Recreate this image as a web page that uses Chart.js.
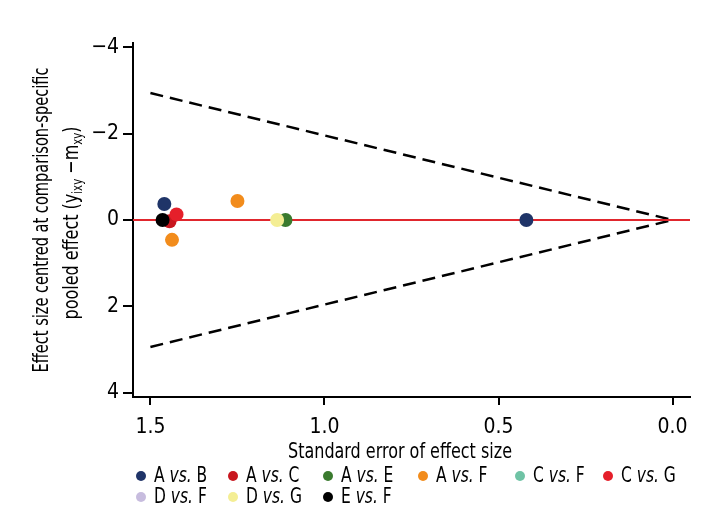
<!DOCTYPE html>
<html>
<head>
<meta charset="utf-8">
<script src="https://cdn.jsdelivr.net/npm/chart.js@4.4.1/dist/chart.umd.min.js"></script>
<style>
  body { margin: 0; background: #fff; }
  #wrap { position: relative; width: 720px; height: 528px; }
  #legend { position: absolute; left: 0; top: 0; width: 720px; height: 528px; pointer-events: none; }
  .item { position: absolute; display: flex; align-items: center; font-family: "DejaVu Sans Condensed", "DejaVu Sans", sans-serif; font-size: 21px; color: #000; white-space: nowrap; line-height: 1; }
  .dot { width: 10px; height: 10px; border-radius: 50%; margin-right: 8px; flex: none; }
  .txt { display: inline-block; transform: scaleX(0.82); transform-origin: left center; }
</style>
</head>
<body>
<div id="wrap">
  <canvas id="chart" width="720" height="528"></canvas>
  <div id="legend"></div>
</div>
<script>
// Data
const xTicks = [1.5, 1.0, 0.5, 0.0];
const yTicks = [-4, -2, 0, 2, 4];

const seriesNames = ['A vs. B', 'A vs. C', 'A vs. E', 'A vs. F', 'C vs. F', 'C vs. G', 'D vs. F', 'D vs. G', 'E vs. F'];
const seriesColors = ['#1f3468', '#c8171f', '#3a7a2e', '#f28c1c', '#6fc3a5', '#e51f2a', '#c7bcde', '#f4ee94', '#000000'];

// standard error (x) and centred effect (y) per comparison
const abSE = [1.46, 0.42],   abEffect = [-0.37, 0];
const acSE = [1.445],        acEffect = [0.03];
const aeSE = [1.112],        aeEffect = [0];
const afSE = [1.25, 1.438],  afEffect = [-0.44, 0.46];
const cfSE = [],             cfEffect = [];
const cgSE = [1.425],        cgEffect = [-0.13];
const dfSE = [],             dfEffect = [];
const dgSE = [1.136],        dgEffect = [0];
const efSE = [1.465],        efEffect = [0];

const seriesSE = [abSE, acSE, aeSE, afSE, cfSE, cgSE, dfSE, dgSE, efSE];
const seriesEffect = [abEffect, acEffect, aeEffect, afEffect, cfEffect, cgEffect, dfEffect, dgEffect, efEffect];
// draw order (higher = further back)
const seriesOrder = [5, 7, 6, 5, 5, 6, 5, 4, 3];

// funnel (pseudo 95% limits) and null line
const funnelSE = [1.5, 0.0];
const funnelUpper = [-2.94, 0];
const funnelLower = [2.94, 0];
const nullSE = [1.55, -0.05];
const nullEffect = [0, 0];

const FONT = '"DejaVu Sans Condensed", "DejaVu Sans", sans-serif';

function pts(xs, ys) {
    return xs.map((x, i) => ({ x: x, y: ys[i] }));
}

const datasets = [];
seriesNames.forEach((name, i) => {
    datasets.push({
        label: name,
        data: pts(seriesSE[i], seriesEffect[i]),
        backgroundColor: seriesColors[i],
        borderColor: seriesColors[i],
        pointRadius: 7,
        pointBorderWidth: 0,
        order: seriesOrder[i]
    });
});
datasets.push({
    label: 'upper', data: pts(funnelSE, funnelUpper), showLine: true, pointRadius: 0,
    borderColor: '#000', borderWidth: 2.5, borderDash: [13, 7], order: 20
});
datasets.push({
    label: 'lower', data: pts(funnelSE, funnelLower), showLine: true, pointRadius: 0,
    borderColor: '#000', borderWidth: 2.5, borderDash: [13, 7], order: 20
});
datasets.push({
    label: 'null', data: pts(nullSE, nullEffect), showLine: true, pointRadius: 0,
    borderColor: '#e0262d', borderWidth: 2, order: 10
});

// draws a run of [text, isSub] parts centred at cx, squeezed to the given width
function drawRun(ctx, parts, cx, baseline, width) {
    const big = '22px ' + FONT, small = '14px ' + FONT;
    let total = 0;
    parts.forEach(p => { ctx.font = p[1] ? small : big; total += ctx.measureText(p[0]).width; });
    const k = width / total;
    ctx.save();
    ctx.translate(cx - width / 2, baseline);
    ctx.scale(k, 1);
    ctx.textAlign = 'left';
    let x = 0;
    parts.forEach(p => {
        ctx.font = p[1] ? small : big;
        ctx.fillText(p[0], x, p[1] ? 4 : 0);
        x += ctx.measureText(p[0]).width;
    });
    ctx.restore();
}

// axis titles drawn by hand (subscripts)
const axisTitles = {
    id: 'axisTitles',
    afterDraw(chart) {
        const ctx = chart.ctx;
        ctx.save();
        ctx.fillStyle = '#000';
        ctx.textBaseline = 'alphabetic';
        drawRun(ctx, [['Standard error of effect size', false]], 400, 458, 224);

        ctx.translate(0, 220);
        ctx.rotate(-Math.PI / 2);
        drawRun(ctx, [['Effect size centred at comparison-specific', false]], 0, 48, 305);
        drawRun(ctx, [
            ['pooled effect (y', false], ['ixy', true], [' \u2212m', false], ['xy', true], [')', false]
        ], -3, 78, 193);
        ctx.restore();
    }
};

new Chart(document.getElementById('chart').getContext('2d'), {
    type: 'scatter',
    data: { datasets: datasets },
    options: {
        responsive: false,
        animation: false,
        layout: { padding: { top: 43, right: 30, left: 0, bottom: 0 } },
        plugins: { legend: { display: false }, tooltip: { enabled: false } },
        scales: {
            x: {
                type: 'linear', reverse: true, min: -0.05, max: 1.55,
                afterBuildTicks: s => { s.ticks = xTicks.map(v => ({ value: v })); },
                afterFit: s => { s.height = 131; },
                ticks: { color: '#000', font: { family: FONT, size: 21 }, padding: 10, maxRotation: 0,
                    callback: v => v.toFixed(1) },
                grid: { drawOnChartArea: false, drawTicks: true, tickLength: 8, color: '#000', lineWidth: 2 },
                border: { color: '#000', width: 2 }
            },
            y: {
                type: 'linear', reverse: true, min: -4.1, max: 4.1,
                afterBuildTicks: s => { s.ticks = yTicks.map(v => ({ value: v })); },
                afterFit: s => { s.width = 133; },
                ticks: { color: '#000', font: { family: FONT, size: 21 }, padding: 4,
                    callback: v => String(v).replace('-', '\u2212') },
                grid: { drawOnChartArea: false, drawTicks: true, tickLength: 10, color: '#000', lineWidth: 2 },
                border: { color: '#000', width: 2 }
            }
        }
    },
    plugins: [axisTitles]
});

// legend
const legendCols = [141, 233, 328, 423, 520, 608];
const legendRows = [475, 496];
const legendEl = document.getElementById('legend');
seriesNames.forEach((name, i) => {
    const col = i % 6, row = Math.floor(i / 6);
    const p = name.split(' vs. ');
    const el = document.createElement('div');
    el.className = 'item';
    el.style.left = (legendCols[col] - 5) + 'px';
    el.style.top = (legendRows[row] - 10) + 'px';
    el.innerHTML = '<span class="dot" style="background:' + seriesColors[i] + '"></span>' +
        '<span class="txt">' + p[0] + ' <i>vs.</i> ' + p[1] + '</span>';
    legendEl.appendChild(el);
});
</script>
</body>
</html>
